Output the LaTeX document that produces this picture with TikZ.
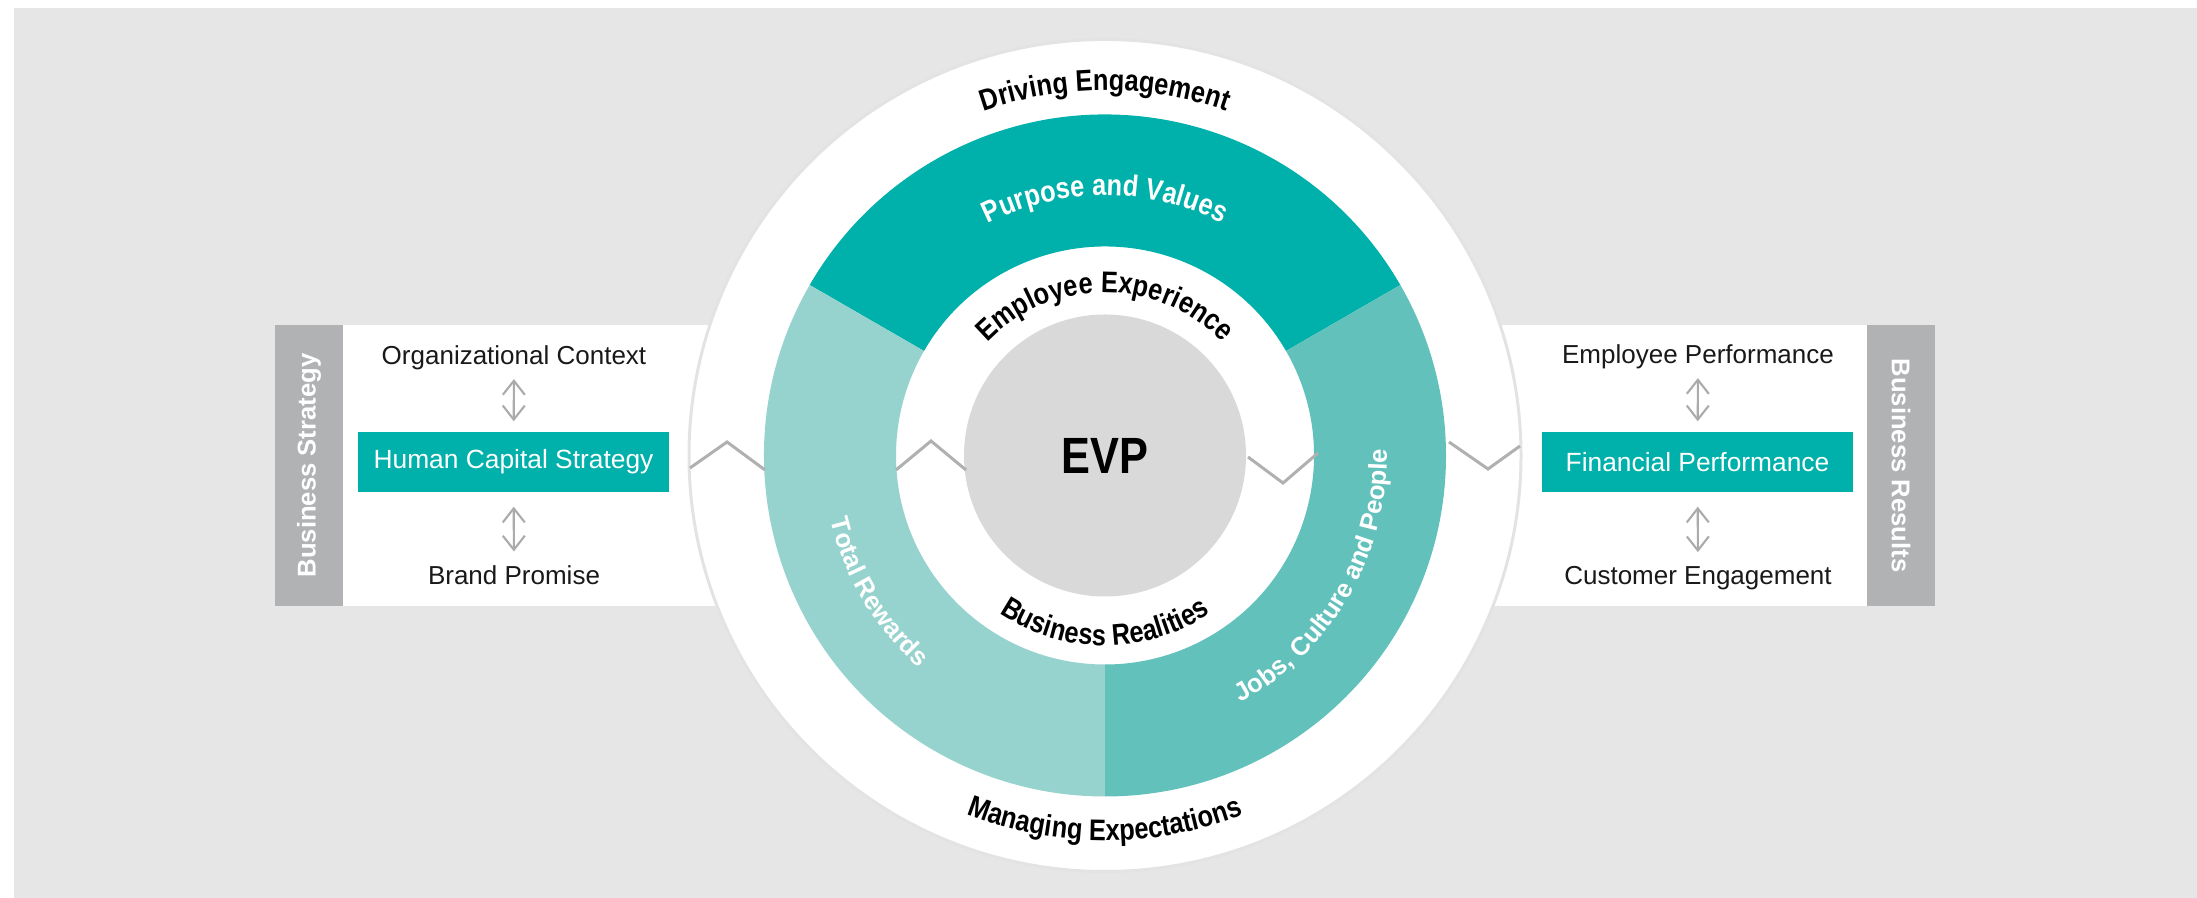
\documentclass[tikz,border=0pt]{standalone}
\usepackage{fontspec}
\setmainfont{Liberation Sans}
\newfontfamily\condfont[FakeStretch=0.85]{Liberation Sans}
\usetikzlibrary{calc,arrows.meta,decorations.text}

\definecolor{panelgray}{HTML}{E6E6E6}
\definecolor{stripgray}{HTML}{B1B2B4}
\definecolor{ringline}{HTML}{E3E3E3}
\definecolor{evpgray}{HTML}{D9D9D9}
\definecolor{tealdark}{HTML}{00B0AA}
\definecolor{teallight}{HTML}{97D3CE}
\definecolor{tealmid}{HTML}{62C1BB}
\definecolor{zigzag}{HTML}{B0B0B0}
\definecolor{linkgray}{HTML}{ABABAB}

\newcommand{\ringfont}{\condfont\bfseries\fontsize{8.5}{10}\selectfont}
\newcommand{\bandfont}{\bfseries\fontsize{7.3}{9}\selectfont}

\begin{document}
\begin{tikzpicture}[
        sidetext/.style={inner sep=0, anchor=base, font=\fontsize{7.4}{9}\selectfont, text=black!90},
        capbox/.style={rectangle, fill=tealdark, text=white, minimum width=3.11cm, minimum height=0.6cm, inner sep=0, font=\fontsize{7.5}{9}\selectfont},
        strip/.style={rectangle, fill=stripgray, text=white, inner sep=0, minimum width=2.81cm, minimum height=0.68cm, font=\bfseries\fontsize{7.3}{9}\selectfont},
        link/.style={{Straight Barb[length=1.4mm,width=2.2mm]}-{Straight Barb[length=1.4mm,width=2.2mm]}, linkgray, line width=0.6pt, shorten <=0.08cm, shorten >=0.1cm},
        zig/.style={zigzag, line width=0.85pt},
        ringpath/.style={decorate, decoration={text along path, text align=center}}
    ]

    \useasboundingbox (0,0) rectangle (21.97,8.98);
    \fill[white] (0,0) rectangle (21.97,8.98);
    \fill[panelgray] (0.14,0) rectangle (21.97,8.90);

    % white band behind the side panels
    \fill[white] (3.43,2.92) rectangle (18.67,5.73);

    % Ring
    \coordinate (C) at (11.05,4.425);
    \draw[ringline, line width=0.85pt, fill=white] (C) circle (4.16);
    \fill[tealdark] ($(C)+(30:3.41)$) arc[start angle=30, end angle=150, radius=3.41]
        -- ($(C)+(150:2.09)$) arc[start angle=150, end angle=30, radius=2.09] -- cycle;
    \fill[teallight] ($(C)+(150:3.41)$) arc[start angle=150, end angle=270, radius=3.41]
        -- ($(C)+(270:2.09)$) arc[start angle=270, end angle=150, radius=2.09] -- cycle;
    \fill[tealmid] ($(C)+(-90:3.41)$) arc[start angle=-90, end angle=30, radius=3.41]
        -- ($(C)+(30:2.09)$) arc[start angle=30, end angle=-90, radius=2.09] -- cycle;
    \node (evp) at (C) [circle, fill=evpgray, minimum size=2.82cm, inner sep=0, font=\condfont\bfseries\fontsize{14.5}{16}\selectfont] {EVP};

    % Zigzags
    \draw[zig] (6.90,4.30) -- (7.27,4.56) -- (7.65,4.28);
    \draw[zig] (8.96,4.28) -- (9.31,4.57) -- (9.66,4.28);
    \draw[zig] (12.48,4.41) -- (12.83,4.15) -- (13.18,4.45);
    \draw[zig] (14.49,4.56) -- (14.88,4.29) -- (15.20,4.52);

    % Ring labels
    \path[ringpath, decoration={text={|\ringfont|Driving Engagement}}]
        ($(C)+(150:3.65)$) arc[start angle=150, end angle=30, radius=3.65];
    \path[ringpath, decoration={text color=white, text={|\ringfont|Purpose and Values}}]
        ($(C)+(150:2.60)$) arc[start angle=150, end angle=30, radius=2.60];
    \path[ringpath, decoration={text={|\ringfont|Employee Experience}}]
        ($(C)+(170:1.63)$) arc[start angle=170, end angle=10, radius=1.63];
    \path[ringpath, decoration={text={|\ringfont|Business Realities}}]
        ($(C)+(190:1.90)$) arc[start angle=190, end angle=350, radius=1.90];
    \path[ringpath, decoration={text={|\ringfont|Managing Expectations}}]
        ($(C)+(200:3.85)$) arc[start angle=200, end angle=340, radius=3.85];
    \path[ringpath, decoration={text color=white, text={|\bandfont|Total Rewards}}]
        ($(C)+(161:2.82)$) arc[start angle=161, end angle=261, radius=2.82];
    \path[ringpath, decoration={text color=white, text={|\bandfont|Jobs, Culture and People}}]
        ($(C)+(-80:2.82)$) arc[start angle=-80, end angle=20, radius=2.82];

    % Left panel
    \node (strategy) at (3.09,4.325) [strip, rotate=90] {Business Strategy};
    \node (org) at (5.14,5.33) [sidetext] {Organizational Context};
    \node (hcs) at (5.135,4.36) [capbox] {Human Capital Strategy};
    \node (brand) at (5.14,3.13) [sidetext] {Brand Promise};
    \draw[link] (org) -- (hcs);
    \draw[link, shorten <=0.14cm, shorten >=0.14cm] (hcs) -- (brand);

    % Right panel
    \node (results) at (19.01,4.325) [strip, rotate=-90] {Business Results};
    \node (empperf) at (16.98,5.34) [sidetext] {Employee Performance};
    \node (finperf) at (16.975,4.36) [capbox] {Financial Performance};
    \node (custeng) at (16.98,3.13) [sidetext] {Customer Engagement};
    \draw[link] (empperf) -- (finperf);
    \draw[link, shorten <=0.14cm, shorten >=0.14cm] (finperf) -- (custeng);

\end{tikzpicture}
\end{document}
